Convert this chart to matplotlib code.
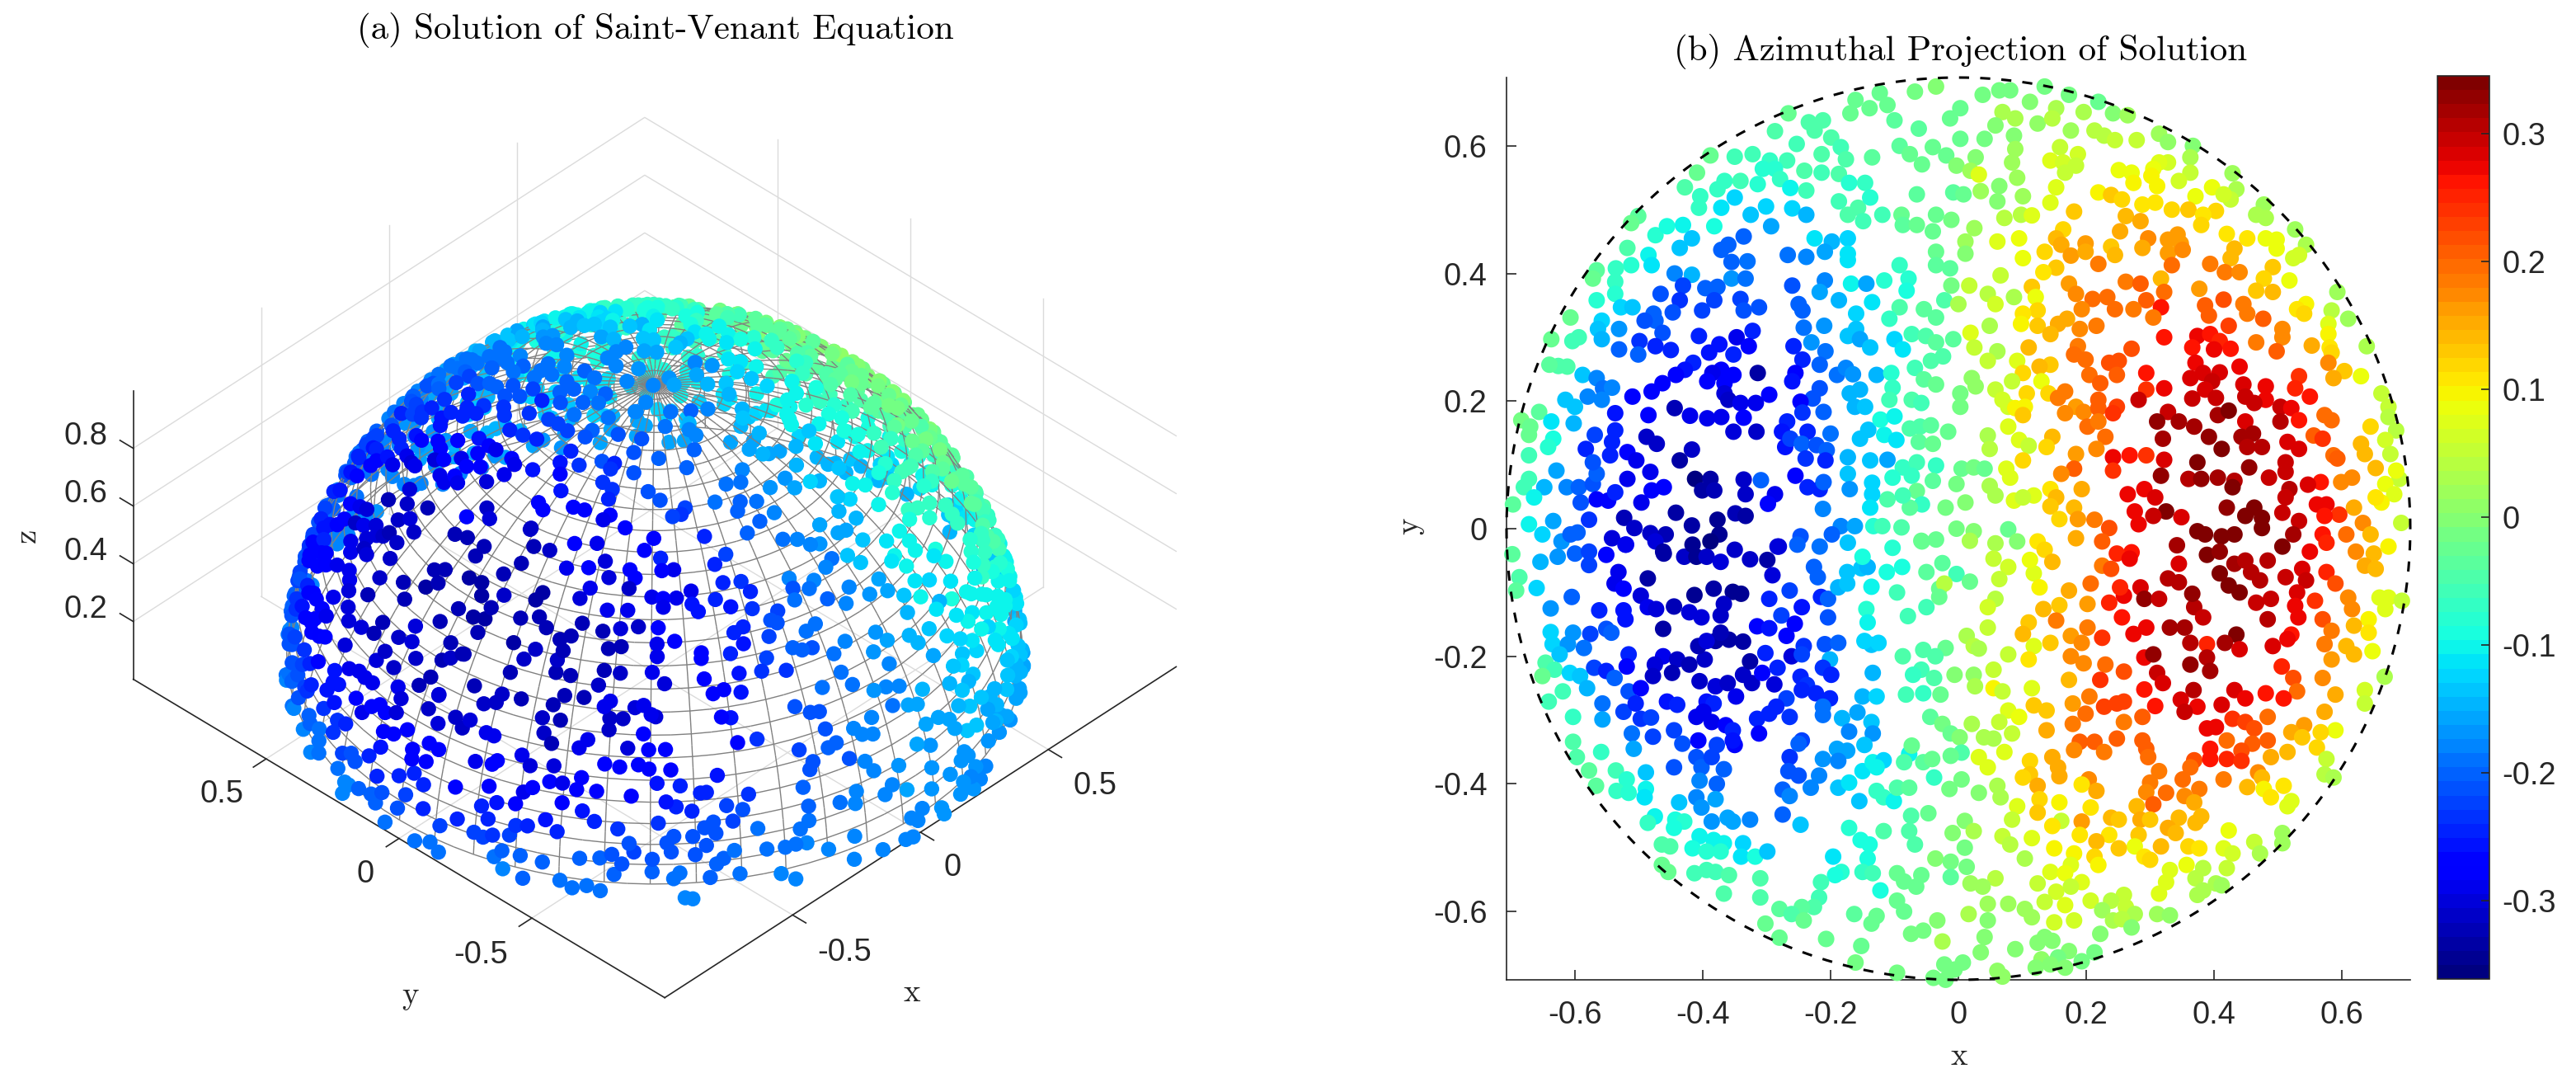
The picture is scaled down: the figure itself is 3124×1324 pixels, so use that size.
import numpy as np
import matplotlib
matplotlib.use("Agg")
import matplotlib.pyplot as plt
from matplotlib.colors import ListedColormap, Normalize
from matplotlib.cm import ScalarMappable
from mpl_toolkits.mplot3d import proj3d
from mpl_toolkits.mplot3d.art3d import Line3DCollection

W, H = 3124, 1324
DPI = 200

# points: x, y, value, one list per quadrant
pts_ul = [
(-.266,.651,-.03),(-.287,.623,-.05),(-.234,.637,-.05),(-.212,.640,-.05),(-.225,.624,-.05),(-.199,.613,-.05),(-.253,.603,-.06),
(-.161,.672,-.03),(-.123,.683,-.02),(-.169,.651,-.03),(-.139,.659,-.03),(-.111,.664,-.03),(-.10,.640,-.04),(-.068,.685,-.01),(-.035,.693,0),
(-.062,.627,-.04),(-.013,.643,-.02),(.003,.659,-.02),(-.092,.600,-.04),(-.076,.587,-.03),(-.057,.571,-.02),(-.04,.598,-.03),(-.019,.585,-.02),(-.003,.569,0),(.003,.611,-.02),(.027,.582,0),(.019,.561,.02),
(-.388,.585,-.02),(-.409,.558,-.03),(-.428,.535,-.05),(-.35,.583,-.06),(-.322,.587,-.06),(-.295,.577,-.07),(-.268,.577,-.06),(-.306,.564,-.08),(-.287,.564,-.08),
(-.366,.545,-.07),(-.341,.545,-.06),(-.314,.54,-.08),(-.279,.548,-.07),(-.241,.561,-.05),(-.214,.587,-.05),(-.184,.598,-.06),(-.176,.579,-.05),(-.214,.558,-.06),(-.187,.556,-.05),(-.263,.534,-.1),(-.238,.53,-.06),(-.171,.542,-.08),(-.146,.542,-.07),(-.135,.582,-.04),
(-.404,.521,-.07),(-.406,.503,-.07),(-.377,.532,-.07),(-.35,.519,-.12),(-.371,.503,-.11),(-.382,.474,-.09),(-.325,.492,-.14),(-.301,.505,-.12),(-.293,.474,-.16),(-.26,.502,-.12),(-.238,.492,-.15),
(-.187,.513,-.06),(-.157,.503,-.05),(-.138,.519,-.08),(-.173,.492,-.05),(-.149,.482,-.06),(-.119,.492,-.06),(-.089,.492,-.03),(-.087,.476,-.04),(-.065,.476,-.03),(-.065,.524,-.04),(-.04,.466,-.03),(-.035,.492,-.02),(-.011,.484,-.01),(-.008,.527,-.04),(.008,.524,-.03),(.025,.471,.02),(.011,.45,.02),(-.035,.434,-.02),(.011,.431,0),
(-.501,.49,-.04),(-.512,.479,-.03),(-.474,.46,-.08),(-.456,.474,-.09),(-.431,.476,-.1),(-.417,.455,-.13),(-.436,.44,-.14),(-.518,.44,-.05),(-.485,.429,-.1),(-.48,.413,-.11),
(-.225,.455,-.11),(-.198,.45,-.15),(-.173,.455,-.12),(-.209,.434,-.16),(-.173,.431,-.11),(-.173,.421,-.11),
(-.336,.458,-.2),(-.36,.445,-.2),(-.371,.437,-.2),(-.33,.419,-.19),(-.355,.418,-.2),(-.267,.429,-.19),(-.238,.426,-.18),
(-.444,.40,-.18),(-.417,.398,-.15),(-.512,.413,-.08),(-.536,.408,-.07),(-.566,.405,-.04),(-.572,.392,-.03),(-.537,.387,-.07),(-.537,.368,-.08),(-.566,.358,-.08),(-.528,.347,-.12),(-.51,.347,-.13),
(-.431,.381,-.22),(-.396,.377,-.2),(-.377,.379,-.2),(-.355,.392,-.17),(-.333,.392,-.19),(-.466,.368,-.21),(-.436,.358,-.23),(-.382,.358,-.22),(-.341,.36,-.22),(-.401,.342,-.22),(-.336,.342,-.21),(-.312,.347,-.21),(-.447,.339,-.21),(-.477,.337,-.2),
(-.26,.381,-.21),(-.25,.352,-.2),(-.244,.342,-.2),(-.209,.389,-.18),(-.217,.371,-.16),(-.187,.358,-.15),(-.168,.384,-.1),(-.144,.384,-.16),(-.116,.389,-.08),(-.135,.355,-.11),(-.16,.337,-.12),(-.092,.413,-.07),(-.078,.392,-.08),(-.081,.373,-.09),(-.092,.347,-.05),(-.108,.329,-.07),(-.035,.413,-.04),(-.013,.408,-.04),(-.011,.381,-.01),(-.022,.358,-.05),(-.054,.344,-.04),(-.035,.331,-.04),(.0,.352,.03),(.017,.381,.05),
(-.558,.326,-.12),(-.564,.313,-.14),(-.558,.297,-.15),(-.531,.313,-.17),(-.607,.331,-.03),(-.637,.297,-.02),(-.604,.294,-.06),(-.594,.3,-.06),
(-.474,.326,-.2),(-.491,.326,-.21),(-.463,.307,-.21),(-.499,.294,-.23),(-.474,.286,-.24),(-.45,.28,-.25),(-.531,.281,-.2),(-.501,.273,-.2),(-.406,.302,-.25),(-.39,.276,-.26),(-.374,.289,-.26),(-.347,.3,-.29),(-.322,.31,-.24),(-.328,.286,-.28),(-.352,.273,-.25),
(-.242,.315,-.19),(-.21,.318,-.17),(-.23,.292,-.17),(-.258,.286,-.24),(-.208,.278,-.19),(-.244,.265,-.25),(-.217,.257,-.2),(-.16,.313,-.13),(-.173,.302,-.14),(-.154,.297,-.16),(-.138,.284,-.14),(-.10,.297,-.12),(-.087,.281,-.11),(-.073,.305,-.06),(-.051,.302,-.05),(-.035,.292,-.04),(-.008,.297,-.04),(-.024,.27,-.05),(-.043,.263,-.05),(.019,.307,.07),(.025,.284,.05),
(-.626,.255,-.05),(-.612,.254,-.05),(-.64,.257,-.04),(-.588,.241,-.13),(-.566,.236,-.18),(-.556,.22,-.19),(-.542,.221,-.18),(-.58,.207,-.18),(-.558,.202,-.18),
(-.415,.26,-.25),(-.428,.249,-.26),(-.442,.241,-.27),(-.371,.249,-.28),(-.352,.241,-.28),(-.385,.244,-.29),(-.314,.244,-.33),(-.393,.231,-.28),(-.366,.228,-.28),(-.463,.228,-.28),(-.48,.215,-.27),(-.51,.207,-.28),(-.366,.212,-.3),(-.36,.202,-.31),(-.296,.21,-.28),(-.317,.197,-.29),(-.341,.197,-.29),(-.255,.244,-.27),(-.26,.231,-.26),(-.217,.22,-.21),(-.228,.204,-.21),(-.247,.199,-.28),(-.19,.241,-.19),(-.176,.252,-.18),(-.165,.242,-.17),(-.128,.241,-.15),(-.17,.212,-.15),(-.154,.218,-.15),(-.162,.191,-.15),(-.146,.191,-.14),(-.105,.244,-.08),(-.103,.221,-.07),(-.108,.202,-.06),(-.068,.252,-.06),(-.054,.234,-.04),(-.035,.226,-.03),(-.073,.202,-.05),(-.058,.197,-.06),(.003,.212,-.01),(.027,.223,.01),(.021,.236,.01),(.003,.191,-.01),
(-.615,.202,-.14),(-.6,.191,-.13),(-.656,.183,-.04),(-.637,.168,-.11),(-.602,.165,-.15),(-.684,.17,-.01),(-.67,.16,-.03),(-.672,.147,-.03),(-.634,.141,-.09),(-.642,.128,-.08),(-.672,.115,-.06),
(-.537,.181,-.26),(-.485,.178,-.28),(-.444,.189,-.32),(-.42,.177,-.29),(-.393,.173,-.29),(-.371,.175,-.29),(-.336,.174,-.27),
(-.488,.144,-.31),(-.472,.133,-.31),(-.352,.152,-.3),(-.316,.152,-.31),(-.537,.154,-.25),(-.569,.147,-.22),(-.542,.136,-.25),(-.583,.125,-.24),(-.518,.12,-.28),(-.545,.115,-.25),(-.504,.107,-.29),(-.417,.124,-.31),(-.436,.107,-.33),
(-.268,.168,-.25),(-.276,.152,-.26),(-.271,.128,-.26),(-.263,.141,-.22),(-.236,.152,-.25),(-.245,.133,-.2),(-.222,.131,-.21),(-.2,.149,-.19),(-.206,.123,-.2),(-.239,.11,-.23),(-.208,.107,-.24),(-.211,.183,-.2),(-.244,.182,-.23),
(-.154,.141,-.13),(-.141,.155,-.14),(-.116,.147,-.1),(-.097,.139,-.11),(-.122,.171,-.09),(-.1,.176,-.1),(-.173,.112,-.15),(-.138,.107,-.13),(-.111,.108,-.16),(-.173,.086,-.14),(-.135,.072,-.12),
(-.076,.157,-.05),(-.06,.16,-.05),(-.043,.162,-.04),(-.062,.136,-.04),(-.04,.133,-.03),(-.016,.152,-.02),
(-.087,.096,-.07),(-.065,.104,-.06),(-.103,.08,-.08),(-.073,.083,-.07),(-.035,.099,-.07),(-.04,.075,-.04),(.005,.094,-.02),(.024,.096,-.01),
(-.003,.07,-.01),(.011,.041,.0),(-.02,.033,-.01),(-.065,.059,-.03),(-.057,.038,-.07),(-.076,.033,-.04),(-.111,.046,-.05),(-.087,.052,-.06),
(-.135,.054,-.12),(-.138,.033,-.11),(-.212,.031,-.18),
(-.629,.091,-.16),(-.648,.065,-.15),(-.672,.078,-.06),(-.68,.065,-.06),(-.664,.049,-.1),(-.697,.038,-.04),(-.613,.065,-.18),(-.594,.065,-.2),(-.572,.07,-.21),(-.566,.086,-.2),(-.572,.104,-.21),(-.591,.041,-.21),(-.566,.046,-.28),(-.548,.044,-.27),(-.537,.057,-.25),
(-.518,.078,-.29),(-.482,.089,-.29),(-.461,.065,-.28),(-.48,.06,-.28),(-.496,.041,-.29),(-.412,.078,-.35),(-.388,.078,-.33),(-.401,.06,-.33),(-.382,.06,-.32),(-.336,.077,-.31),(-.333,.054,-.31),(-.309,.076,-.2),(-.287,.054,-.29),(-.298,.039,-.27),(-.255,.083,-.28),(-.236,.065,-.24),(-.217,.062,-.25),(-.211,.073,-.2),(-.17,.062,-.17),
(-.442,.025,-.33),(-.523,.017,-.32),(-.507,.001,-.31),(-.482,-.007,-.31),(-.458,-.009,-.32),(-.377,.014,-.34),(-.349,.024,-.32),(-.333,.02,-.33),(-.417,.005,-.33),(-.374,-.009,-.34),(-.388,-.02,-.35),(-.578,.014,-.23),(-.634,.012,-.16),(-.672,.007,-.1),(-.651,-.009,-.12),(-.621,-.02,-.17),(-.596,-.006,-.2),(-.607,-.009,-.2),(-.542,-.015,-.3),(-.52,-.025,-.28),(-.474,-.02,-.3),(-.461,-.039,-.33),(-.184,.004,-.18),(-.162,.004,-.16),(-.198,-.009,-.2),(-.247,-.012,-.21),(-.252,-.025,-.2),(-.281,-.028,-.3),(-.173,-.022,-.14),(-.217,-.028,-.19),(-.133,.004,-.08),(-.119,.004,-.06),(-.089,.002,-.05),(-.103,-.03,-.08),(-.057,-.02,-.03),(-.035,-.017,-.02),(-.003,0,-.01),(.024,-.004,0),
]
pts_ll = [
(-.698,-.04,-.04),(-.687,-.076,-.05),(-.692,-.097,-.04),(-.66,-.093,-.12),(-.654,-.052,-.15),(-.627,-.044,-.17),(-.6,-.039,-.2),(-.578,-.057,-.22),(-.578,-.036,-.22),(-.605,-.107,-.2),(-.638,-.125,-.17),
(-.551,-.041,-.27),(-.532,-.068,-.29),(-.538,-.086,-.29),(-.524,-.094,-.28),(-.486,-.078,-.33),(-.462,-.036,-.33),(-.521,-.025,-.29),(-.429,-.044,-.31),(-.41,-.044,-.34),(-.394,-.044,-.31),(-.372,-.052,-.3),(-.35,-.033,-.31),(-.326,-.048,-.31),(-.299,-.049,-.33),(-.291,-.073,-.3),(-.283,-.028,-.3),(-.416,-.025,-.34),
(-.497,-.105,-.3),(-.486,-.123,-.29),(-.473,-.126,-.3),(-.445,-.122,-.32),(-.413,-.104,-.34),(-.383,-.094,-.33),(-.353,-.099,-.34),(-.34,-.102,-.34),(-.367,-.118,-.31),(-.421,-.131,-.3),(-.402,-.139,-.3),(-.372,-.136,-.31),(-.562,-.128,-.25),(-.524,-.128,-.26),(-.521,-.142,-.26),(-.462,-.157,-.33),(-.296,-.11,-.24),(-.264,-.097,-.22),(-.245,-.123,-.26),(-.215,-.107,-.24),(-.204,-.11,-.2),(-.204,-.139,-.21),(-.277,-.136,-.22),(-.315,-.153,-.28),(-.296,-.156,-.26),(-.269,-.168,-.28),(-.256,-.149,-.28),
(-.226,-.06,-.2),(-.22,-.076,-.2),(-.188,-.092,-.15),(-.174,-.086,-.14),(-.174,-.068,-.14),(-.152,-.062,-.13),(-.142,-.06,-.15),(-.15,-.044,-.09),(-.136,-.091,-.1),(-.112,-.068,-.09),(-.088,-.06,-.09),(-.096,-.1,-.06),(-.144,-.126,-.08),(-.142,-.147,-.1),(-.079,-.137,-.06),(-.05,-.068,-.04),(-.025,-.054,-.04),(-.003,-.071,-.06),(.018,-.083,-.03),(-.03,-.094,-.02),(-.022,-.086,.04),(-.05,-.123,-.06),(-.03,-.107,-.02),(.018,-.019,.03),(-.058,-.019,-.03),(.013,-.168,.03),
(-.638,-.162,-.12),(-.603,-.163,-.17),(-.576,-.165,-.22),(-.551,-.157,-.21),(-.543,-.163,-.2),(-.635,-.181,-.12),(-.611,-.181,-.17),(-.586,-.187,-.19),(-.624,-.197,-.13),(-.516,-.197,-.25),(-.519,-.216,-.27),(-.646,-.21,-.05),(-.632,-.221,-.06),(-.651,-.231,-.03),(-.608,-.226,-.12),(-.592,-.231,-.14),(-.57,-.218,-.22),(-.551,-.223,-.25),(-.538,-.234,-.2),(-.581,-.25,-.15),(-.619,-.255,-.06),(-.641,-.271,-.06),
(-.462,-.2,-.29),(-.44,-.205,-.31),(-.421,-.213,-.32),(-.397,-.205,-.31),(-.407,-.184,-.32),(-.475,-.213,-.3),(-.478,-.231,-.31),(-.448,-.226,-.32),(-.405,-.239,-.31),(-.38,-.247,-.3),(-.361,-.242,-.31),(-.337,-.229,-.31),(-.323,-.242,-.31),(-.326,-.208,-.33),(-.348,-.263,-.29),(-.302,-.195,-.24),(-.307,-.226,-.28),(-.283,-.218,-.25),(-.288,-.244,-.3),(-.261,-.2,-.3),(-.242,-.184,-.23),(-.245,-.197,-.22),(-.38,-.176,-.33),(-.359,-.174,-.33),(-.337,-.177,-.33),(-.394,-.176,-.3),(-.372,-.163,-.32),
(-.209,-.181,-.21),(-.188,-.179,-.2),(-.201,-.205,-.15),(-.212,-.218,-.23),(-.199,-.229,-.24),(-.247,-.232,-.24),(-.237,-.245,-.23),(-.245,-.253,-.24),(-.223,-.258,-.24),(-.201,-.266,-.25),(-.212,-.279,-.19),(-.212,-.292,-.19),(-.269,-.266,-.22),(-.285,-.279,-.25),(-.296,-.29,-.24),(-.315,-.298,-.25),(-.264,-.295,-.23),(-.312,-.321,-.27),(-.136,-.182,-.13),(-.147,-.176,-.12),(-.125,-.179,-.12),(-.134,-.226,-.15),(-.15,-.263,-.15),(-.128,-.263,-.12),(-.158,-.288,-.16),(-.182,-.297,-.15),(-.171,-.318,-.18),(-.136,-.303,-.13),(-.134,-.321,-.17),(-.147,-.339,-.14),
(-.087,-.2,-.05),(-.055,-.19,-.05),(-.02,-.187,-.03),(-.036,-.2,-.05),(-.058,-.221,-.06),(-.071,-.229,-.07),(-.038,-.234,-.05),(-.006,-.229,.0),(.024,-.229,.01),(-.082,-.26,-.06),(-.055,-.258,-.07),(-.028,-.26,-.03),(.026,-.247,.03),(.024,-.184,.04),
(-.557,-.274,-.19),(-.557,-.299,-.16),(-.603,-.295,-.07),(-.524,-.287,-.22),(-.516,-.255,-.21),(-.497,-.25,-.27),(-.505,-.274,-.24),(-.497,-.298,-.23),(-.481,-.296,-.22),(-.511,-.321,-.19),(-.478,-.326,-.22),(-.456,-.271,-.26),(-.44,-.276,-.24),(-.445,-.316,-.22),(-.432,-.337,-.21),(-.407,-.332,-.27),(-.41,-.295,-.29),(-.394,-.271,-.26),(-.383,-.274,-.25),(-.399,-.287,-.29),(-.386,-.303,-.29),(-.364,-.308,-.28),(-.353,-.316,-.25),(-.35,-.339,-.27),(-.378,-.339,-.22),(-.353,-.332,-.26),
(-.603,-.334,-.05),(-.597,-.358,-.05),(-.559,-.35,-.07),(-.508,-.345,-.16),(-.578,-.379,-.04),(-.567,-.403,-.04),(-.536,-.379,-.06),(-.519,-.393,-.08),(-.535,-.411,-.07),(-.516,-.414,-.08),(-.489,-.382,-.13),(-.489,-.408,-.1),(-.491,-.421,-.11),(-.445,-.374,-.21),(-.41,-.358,-.21),(-.402,-.374,-.2),(-.386,-.358,-.22),(-.367,-.377,-.2),(-.405,-.395,-.18),(-.378,-.4,-.2),(-.437,-.429,-.14),(-.41,-.421,-.18),(-.402,-.437,-.17),(-.38,-.424,-.16),
(-.264,-.358,-.23),(-.266,-.38,-.21),(-.245,-.332,-.22),(-.25,-.337,-.2),(-.25,-.387,-.21),(-.218,-.387,-.18),(-.231,-.406,-.18),(-.275,-.409,-.2),(-.264,-.419,-.18),(-.212,-.361,-.17),(-.19,-.345,-.16),(-.174,-.348,-.16),(-.188,-.364,-.18),(-.188,-.406,-.14),(-.171,-.398,-.11),(-.15,-.38,-.11),(-.134,-.366,-.1),(-.117,-.363,-.12),(-.128,-.374,-.1),(-.155,-.427,-.13),(-.128,-.411,-.07),(-.117,-.421,-.07),(-.101,-.427,-.1),(-.096,-.406,-.05),(-.077,-.353,-.1),(-.085,-.366,-.05),(-.055,-.366,-.04),(-.041,-.361,-.03),(-.077,-.406,-.04),(-.038,-.39,-.07),
(-.073,-.34,-.03),(-.044,-.295,-.04),(-.025,-.306,-.01),(-.012,-.321,-.02),(.002,-.327,0),(.005,-.351,-.05),(-.012,-.356,-.02),(.021,-.306,.03),(-.014,-.408,-.01),(.005,-.393,-.01),
(-.275,-.448,-.2),(-.247,-.464,-.14),(-.326,-.456,-.18),(-.361,-.453,-.16),(-.386,-.459,-.17),(-.353,-.459,-.16),(-.337,-.493,-.12),(-.405,-.482,-.1),(-.383,-.488,-.1),(-.367,-.493,-.1),(-.416,-.501,-.09),(-.394,-.506,-.08),(-.372,-.506,-.08),(-.34,-.514,-.11),(-.318,-.514,-.09),(-.299,-.506,-.13),
(-.475,-.451,-.1),(-.486,-.461,-.07),(-.443,-.456,-.09),(-.429,-.459,-.08),(-.445,-.469,-.09),(-.464,-.495,-.05),(-.451,-.498,-.05),(-.464,-.527,-.02),(-.454,-.538,-.03),(-.413,-.54,-.06),(-.394,-.535,-.06),(-.38,-.538,-.06),(-.359,-.543,-.05),(-.31,-.548,-.05),(-.367,-.572,-.05),(-.31,-.578,-.05),
(-.171,-.469,-.08),(-.153,-.488,-.09),(-.139,-.495,-.09),(-.142,-.517,-.09),(-.117,-.474,-.05),(-.196,-.514,-.11),(-.183,-.538,-.08),(-.193,-.543,-.09),(-.15,-.538,-.07),(-.134,-.54,-.06),(-.215,-.554,-.06),(-.218,-.578,-.06),(-.122,-.567,-.09),(-.226,-.593,-.05),(-.245,-.593,-.04),(-.28,-.596,-.04),(-.261,-.604,-.05),(-.242,-.614,-.03),(-.302,-.619,-.02),(-.28,-.641,-.02),(-.163,-.604,-.04),(-.128,-.607,-.03),(-.136,-.619,-.03),(-.207,-.643,-.02),(-.152,-.654,-.02),(-.161,-.68,-.01),(-.096,-.696,-.01),
(-.074,-.45,-.05),(-.047,-.446,-.03),(-.077,-.474,-.05),(-.068,-.495,-.05),(-.009,-.477,.0),(.01,-.458,.0),(.024,-.474,.03),(.01,-.5,-.01),(-.036,-.517,.0),(-.012,-.522,-.01),(.013,-.53,-.01),(-.012,-.546,-.04),(.019,-.556,.02),(-.096,-.54,-.03),(-.085,-.553,-.03),(-.058,-.543,-.03),(-.066,-.561,-.02),(-.096,-.583,-.03),(-.085,-.6,-.03),
(.016,-.604,.03),(-.033,-.614,0.),(-.055,-.63,-.01),(-.074,-.635,-.01),(-.025,-.647,.03),(-.022,-.683,-.01),(.007,-.68,-.01),(-.006,-.691,-.01),(-.039,-.704,-.01),(-.02,-.707,-.01),
]
pts_ur = [
(.135,.693,-.01),(.173,.68,-.01),(.219,.669,-.02),(.242,.651,-.0),(.265,.648,.02),(.314,.619,.02),(.328,.606,.01),(.367,.6,.0),(.363,.582,.03),(.429,.557,.02),(.435,.532,.03),(.478,.508,.02),(.466,.492,.03),(.481,.487,.03),(.527,.469,.02),(.544,.445,.03),(.524,.424,.06),(.593,.371,.02),(.584,.342,.04),(.61,.329,.02),(.639,.286,.03),(.63,.239,.09),(.662,.212,.05),(.673,.191,.05),(.673,.175,.04),(.685,.154,.04),(.668,.139,.06),(.676,.117,.05),(.69,.078,.05),(.693,.009,.05),(.685,.091,.09),(.668,.07,.09),(.682,.054,.08),(.662,.041,.1),
(.038,.68,-.01),(.064,.687,-.01),(.081,.687,-.01),(.112,.669,.0),(.153,.659,.03),(.196,.653,.03),(.069,.653,.03),(.089,.643,.03),(.124,.635,.01),(.147,.643,.04),(.058,.632,-.0),(.176,.624,.02),(.213,.624,.04),(.228,.616,.04),(.245,.609,.05),(.279,.609,.05),(.041,.611,-.01),(.087,.616,.0),(.089,.595,.02),(.159,.598,.05),(.187,.587,.06),(.144,.577,.07),(.164,.574,.06),(.084,.574,.02),(.184,.569,.05),(.328,.574,.06),(.314,.574,.07),(.305,.564,.09),(.251,.562,.09),(.271,.558,.09),(.167,.558,.05),(.032,.555,.07),(.363,.558,.05),(.345,.545,.06),(.092,.55,.02),(.274,.542,.1),(.302,.553,.1),(.311,.537,.1),(.064,.537,.0),(.153,.535,.08),(.219,.527,.1),(.239,.523,.13),(.256,.516,.12),(.035,.529,.02),(.101,.521,.02),(.061,.513,.0),(.144,.511,.08),(.397,.535,.09),(.371,.521,.09),(.426,.516,.05),(.415,.524,.06),(.288,.508,.11),(.308,.511,.11),(.334,.5,.12),(.36,.5,.13),(.181,.497,.13),(.403,.498,.12),(.383,.492,.11),(.072,.487,.04),(.098,.492,.04),(.115,.491,.07),(.262,.49,.14),(.285,.482,.15),(.38,.476,.12),(.164,.469,.12),(.253,.466,.15),(.343,.461,.16),(.42,.462,.11),(.452,.455,.11),(.481,.455,.09),(.498,.453,.09),(.061,.45,.08),(.095,.455,.09),(.153,.455,.14),(.297,.455,.17),(.328,.453,.16),(.348,.447,.16),(.199,.447,.16),(.161,.445,.15),(.135,.434,.12),(.239,.442,.13),(.288,.44,.15),(.432,.439,.14),(.498,.439,.09),(.533,.429,.06),(.176,.428,.16),(.199,.434,.15),(.245,.429,.14),(.328,.432,.16),(.351,.437,.17),(.101,.424,.09),(.426,.424,.14),(.334,.413,.2),(.219,.415,.18),(.394,.415,.18),(.492,.41,.13),(.153,.409,.13),(.133,.402,.11),(.417,.402,.19),(.44,.402,.17),(.518,.389,.09),(.066,.397,.05),(.317,.392,.14),(.478,.392,.12),(.262,.387,.18),(.285,.384,.21),(.173,.384,.16),(.115,.379,.13),(.377,.376,.16),(.466,.373,.13),(.492,.371,.14),(.046,.368,.04),(.184,.368,.17),(.121,.363,.09),(.322,.371,.2),(.087,.363,.03),(.058,.352,.06),(.233,.363,.2),(.21,.36,.2),(.386,.35,.21),(.415,.359,.22),(.446,.352,.19),(.544,.352,.1),(.53,.344,.11),(.294,.358,.21),(.274,.344,.19),(.245,.344,.2),(.317,.347,.26),(.193,.344,.17),(.124,.342,.12),(.101,.337,.11),(.541,.337,.12),(.452,.337,.19),(.392,.334,.21),(.305,.331,.19),(.17,.329,.15),(.579,.321,.08),(.477,.329,.21),(.423,.318,.23),(.124,.318,.13),(.156,.321,.15),(.216,.318,.19),(.049,.318,.03),(.19,.313,.17),(.098,.321,.1),(.144,.305,.14),(.322,.30,.26),(.374,.302,.27),(.394,.305,.26),(.409,.294,.25),(.507,.313,.17),(.579,.305,.1),(.11,.284,.14),(.466,.292,.19),(.507,.30,.17),(.553,.287,.15),(.581,.284,.11),(.366,.284,.26),(.426,.282,.26),(.4,.281,.27),(.271,.282,.22),(.187,.286,.18),(.498,.278,.21),(.061,.278,.03),(.181,.273,.2),(.199,.265,.2),(.251,.263,.22),(.236,.26,.22),(.584,.276,.12),(.371,.26,.27),(.046,.263,.05),(.092,.263,.08),(.144,.257,.13),(.127,.254,.14),(.44,.254,.27),(.383,.244,.28),(.409,.245,.28),(.579,.26,.17),(.604,.247,.13),(.294,.244,.26),(.205,.241,.2),(.101,.244,.12),(.248,.241,.21),(.363,.236,.28),(.533,.239,.24),(.587,.236,.15),(.084,.231,.05),(.13,.231,.09),(.222,.228,.21),(.527,.22,.25),(.397,.231,.3),(.446,.226,.28),(.481,.223,.27),(.058,.218,.05),(.294,.218,.24),(.322,.22,.27),(.386,.218,.28),(.55,.207,.26),(.107,.212,.12),(.141,.212,.12),(.167,.215,.18),(.219,.202,.21),(.282,.202,.29),(.366,.204,.29),(.403,.205,.29),(.449,.207,.3),(.156,.205,.18),(.481,.202,.27),(.069,.202,.06),(.248,.191,.23),(.504,.191,.3),(.463,.197,.29),(.104,.191,.1),(.078,.191,.06),(.521,.189,.27),(.573,.178,.2),(.184,.191,.16),(.167,.181,.17),(.196,.183,.17),(.219,.189,.21),(.089,.189,.1),(.101,.178,.13),(.328,.183,.29),(.406,.178,.32),(.423,.185,.34),(.584,.17,.2),(.242,.181,.24),(.504,.168,.31),(.533,.17,.26),(.078,.16,.08),(.311,.168,.33),(.345,.168,.32),(.369,.16,.32),(.449,.168,.28),(.202,.16,.2),(.219,.168,.18),(.645,.16,.12),(.392,.144,.33),(.32,.141,.32),(.443,.144,.32),(.461,.149,.32),(.556,.146,.21),(.57,.141,.24),(.046,.146,.03),(.147,.144,.14),(.515,.136,.28),(.230,.144,.2),(.095,.139,.08),(.11,.13,.05),(.049,.125,.04),(.138,.128,.12),(.452,.128,.31),(.475,.128,.31),(.216,.125,.17),(.412,.125,.34),(.533,.125,.28),(.63,.133,.14),(.636,.117,.14),(.184,.117,.16),(.587,.115,.2),(.593,.11,.21),(.242,.112,.27),(.268,.115,.26),(.294,.115,.24),(.101,.107,.12),(.322,.108,.28),(.374,.104,.34),(.512,.104,.3),(.041,.094,-.02),(.653,.095,.14),(.242,.091,.24),(.455,.096,.33),(.181,.094,.21),(.317,.083,.33),(.512,.089,.3),(.075,.094,.08),(.081,.08,.08),(.161,.086,.17),(.36,.078,.31),(.38,.078,.33),(.406,.08,.32),(.432,.075,.31),(.486,.08,.3),(.567,.073,.26),(.547,.069,.28),(.599,.073,.17),(.616,.08,.17),(.049,.067,.03),(.429,.065,.35),(.518,.062,.31),(.193,.062,.15),(.144,.062,.11),(.265,.054,.27),(.291,.062,.27),(.087,.044,.08),(.153,.049,.14),(.118,.052,.07),(.058,.052,.03),(.101,.049,.05),(.308,.049,.28),(.512,.049,.3),(.653,.049,.11),(.144,.035,.13),(.561,.038,.27),(.576,.038,.27),(.619,.033,.15),(.181,.033,.14),(.276,.027,.27),(.325,.027,.34),(.42,.033,.33),(.463,.033,.35),(.349,.018,.28),(.305,.02,.29),(.596,.022,.24),(.573,.02,.26),(.507,.025,.29),(.449,.02,.34),(.475,.017,.35),(.158,.015,.12),(.187,.015,.16),(.213,.014,.19),(.282,.007,.27),(.533,.012,.3),(.633,.009,.17),(.645,-.009,.14),(.078,-.001,-.03),(.236,.001,.22),(.374,-.004,.35),(.386,-.009,.36),(.412,-.012,.34),(.432,-.009,.34),(.475,.001,.34),(.524,-.009,.32),(.57,-.009,.26),(.607,-.009,.2),(.184,-.015,.15),(.225,-.02,.21),(.576,-.022,.25),
]
pts_lr = [
(.058,-.023,.03),(.092,-.02,.0),(.124,-.02,.11),(.135,-.033,.12),(.147,-.052,.14),(.055,-.047,.05),(.078,-.06,.06),(.064,-.079,.05),(.118,-.07,.08),(.112,-.049,.09),(.127,-.092,.1),(.058,-.11,.04),(.046,-.123,.06),(.173,-.097,.15),(.133,-.126,.14),(.158,-.12,.13),(.207,-.086,.2),(.202,-.118,.16),(.153,-.144,.18),(.11,-.147,.13),(.101,-.165,.14),(.144,-.179,.13),(.118,-.184,.07),(.11,-.205,.11),(.078,-.197,.05),(.046,-.155,.05),(.032,-.188,.03),(.202,-.155,.18),(.176,-.168,.16),(.225,-.171,.24),(.193,-.179,.17),(.176,-.2,.17),(.196,-.211,.17),(.23,-.213,.2),(.256,-.139,.26),(.236,-.116,.25),(.259,-.105,.27),(.225,-.058,.19),(.239,-.063,.22),(.253,-.092,.25),(.285,-.092,.28),(.291,-.11,.33),(.314,-.11,.3),(.271,-.037,.26),(.248,-.039,.25),(.268,-.047,.27),(.274,-.165,.27),(.294,-.155,.27),(.331,-.155,.32),(.354,-.155,.32),(.369,-.123,.31),(.366,-.102,.33),(.328,-.078,.31),(.345,-.084,.31),(.345,-.055,.28),(.342,-.026,.32),(.389,-.041,.34),(.409,-.036,.33),(.409,-.07,.34),(.423,-.089,.34),(.44,-.1,.34),(.432,-.055,.32),(.449,-.05,.31),(.484,-.05,.31),(.458,-.068,.31),(.472,-.081,.31),(.512,-.076,.3),(.507,-.028,.34),(.538,-.063,.28),(.576,-.068,.25),(.544,-.081,.29),(.59,-.086,.22),(.55,-.036,.27),(.622,-.036,.17),(.65,-.039,.14),(.636,-.058,.15),(.653,-.063,.14),(.673,-.028,.1),(.466,-.116,.3),(.489,-.11,.29),(.484,-.142,.31),(.383,-.139,.3),(.53,-.1,.28),(.527,-.121,.27),(.558,-.113,.24),(.532,-.139,.27),(.61,-.108,.17),(.616,-.126,.17),(.57,-.142,.22),(.659,-.108,.08),(.673,-.108,.08),(.694,-.113,.05),(.668,-.126,.08),(.642,-.142,.1),(.619,-.152,.14),(.642,-.163,.11),(.584,-.16,.18),(.573,-.181,.18),(.521,-.166,.26),(.515,-.173,.27),(.492,-.184,.28),(.389,-.181,.25),(.363,-.179,.31),(.435,-.166,.35),(.417,-.179,.32),(.44,-.189,.28),(.291,-.202,.27),(.305,-.197,.33),(.389,-.202,.31),(.363,-.213,.33),(.607,-.184,.14),(.648,-.192,.09),(.584,-.205,.16),(.619,-.197,.14),(.506,-.216,.25),(.259,-.224,.22),(.394,-.223,.32),(.667,-.232,.03),(.311,-.226,.3),(.524,-.234,.22),(.57,-.234,.17),(.222,-.237,.24),(.173,-.237,.14),(.320,-.242,.28),(.636,-.253,.06),(.055,-.221,.05),(.115,-.25,.07),(.055,-.25,.1),(.069,-.255,.05),(.368,-.253,.31),(.432,-.253,.28),(.481,-.258,.26),(.205,-.263,.19),(.291,-.252,.26),(.53,-.255,.2),(.59,-.26,.15),(.509,-.266,.26),(.348,-.268,.28),(.259,-.271,.23),(.636,-.274,.05),(.179,-.274,.16),(.248,-.274,.23),(.118,-.277,.13),(.228,-.279,.23),(.308,-.278,.26),(.449,-.266,.27),(.412,-.276,.28),(.374,-.279,.27),(.354,-.287,.29),(.078,-.285,.07),(.138,-.285,.13),(.199,-.29,.2),(.573,-.287,.15),(.095,-.295,.09),(.288,-.295,.21),(.429,-.298,.24),(.484,-.295,.2),(.064,-.303,.05),(.259,-.303,.19),(.403,-.311,.27),(.449,-.303,.23),(.179,-.306,.18),(.389,-.313,.27),(.463,-.313,.22),(.138,-.316,.15),(.59,-.316,.09),(.541,-.308,.16),(.521,-.319,.15),(.567,-.319,.12),(.084,-.321,.05),(.538,-.327,.13),(.04,-.327,.03),(.055,-.329,.03),(.288,-.332,.21),(.484,-.332,.21),(.42,-.332,.2),(.46,-.337,.21),(.248,-.329,.21),(.213,-.334,.21),(.19,-.334,.21),(.294,-.345,.21),(.561,-.343,.12),(.181,-.347,.17),(.228,-.35,.18),(.394,-.345,.26),(.443,-.348,.22),(.515,-.35,.14),(.072,-.35,.07),(.032,-.358,.08),(.297,-.358,.2),(.147,-.358,.15),(.369,-.363,.22),(.42,-.361,.25),(.394,-.361,.26),(.443,-.364,.24),(.489,-.358,.15),(.112,-.364,.12),(.576,-.361,.05),(.314,-.38,.18),(.156,-.374,.15),(.046,-.374,.07),(.363,-.374,.2),(.469,-.382,.17),(.573,-.385,.04),(.112,-.385,.13),(.101,-.39,.12),(.158,-.388,.15),(.351,-.393,.2),(.415,-.393,.19),(.475,-.39,.14),(.587,-.39,.03),(.204,-.393,.17),(.193,-.401,.11),(.124,-.403,.15),(.509,-.403,.11),(.3,-.398,.18),(.452,-.405,.14),(.377,-.408,.18),(.061,-.403,.03),(.216,-.411,.15),(.294,-.413,.17),(.325,-.414,.2),(.032,-.414,.0),(.478,-.408,.1),(.127,-.424,.12),(.354,-.419,.17),(.521,-.427,.07),(.515,-.435,.07),(.489,-.421,.11),(.066,-.421,.03),(.158,-.429,.1),(.207,-.437,.11),(.305,-.432,.21),(.369,-.429,.15),(.092,-.435,.08),(.279,-.435,.14),(.124,-.445,.13),(.161,-.458,.05),(.084,-.456,.05),(.239,-.453,.14),(.193,-.459,.16),(.251,-.456,.13),(.285,-.456,.15),(.38,-.451,.14),(.3,-.456,.13),(.147,-.466,.11),(.345,-.453,.14),(.423,-.473,.09),(.371,-.461,.14),(.507,-.477,.02),(.328,-.469,.15),(.236,-.48,.11),(.19,-.48,.11),(.069,-.482,.05),(.115,-.485,.08),(.463,-.491,.05),(.282,-.48,.13),(.34,-.477,.14),(.216,-.49,.14),(.317,-.498,.14),(.507,-.493,.02),(.081,-.495,.04),(.276,-.498,.09),(.251,-.501,.13),(.36,-.498,.12),(.377,-.501,.11),(.15,-.501,.1),(.415,-.501,.08),(.181,-.509,.1),(.472,-.509,.03),(.291,-.514,.11),(.429,-.509,.06),(.104,-.517,.03),(.213,-.514,.12),(.3,-.519,.12),(.219,-.527,.1),(.357,-.527,.09),(.176,-.527,.08),(.383,-.532,.04),(.331,-.535,.08),(.42,-.532,.05),(.144,-.538,.08),(.167,-.54,.09),(.058,-.548,.04),(.325,-.554,.08),(.193,-.554,.08),(.371,-.548,.04),(.124,-.556,.05),(.153,-.569,.06),(.403,-.556,.03),(.412,-.559,.02),(.314,-.572,.07),(.176,-.561,.05),(.038,-.561,.02),(.259,-.574,.05),(.207,-.583,.06),(.374,-.574,.03),(.239,-.583,.04),(.383,-.567,.03),(.078,-.588,.02),(.046,-.588,.02),(.135,-.585,.05),(.104,-.596,.02),(.167,-.59,.07),(.262,-.593,.05),(.225,-.598,.02),(.311,-.604,.02),(.276,-.604,.03),(.331,-.606,.01),(.115,-.609,.02),(.046,-.614,.0),(.181,-.614,.06),(.15,-.617,.06),(.242,-.614,.03),(.256,-.612,.04),(.271,-.625,.0),(.222,-.635,0.),(.135,-.64,.0),(.041,-.64,.0),(.147,-.646,.0),(.124,-.649,-.0),(.089,-.659,-.0),(.035,-.664,-.0),(.173,-.662,.0),(.213,-.664,-.01),(.13,-.675,.01),(.156,-.672,-.01),(.193,-.678,-.01),(.144,-.683,-.0),(.121,-.688,.0),(.167,-.688,0.),(.061,-.693,.01),(.069,-.702,.01),
]

xy_ticks = [-0.6, -0.4, -0.2, 0, 0.2, 0.4, 0.6]
xy_labels = ["-0.6", "-0.4", "-0.2", "0", "0.2", "0.4", "0.6"]
cbar_ticks = [-0.3, -0.2, -0.1, 0, 0.1, 0.2, 0.3]
cbar_labels = ["-0.3", "-0.2", "-0.1", "0", "0.1", "0.2", "0.3"]
box_ticks = [-0.5, 0, 0.5]
box_labels = ["-0.5", "0", "0.5"]
z_ticks = [0.2, 0.4, 0.6, 0.8]
z_labels = ["0.2", "0.4", "0.6", "0.8"]

TITLE_A = "(a) Solution of Saint-Venant Equation"
TITLE_B = "(b) Azimuthal Projection of Solution"

CLIM = (-0.361, 0.345)     # panel b and colourbar
CLIM_3D = (-0.40, 1.07)    # panel a is scaled wider, never gets past green
R_MAX = 0.7071
ELEV, AZIM = 38.5, -136.1

DOT_S = 52
DOT_S_3D = 44
INK = "#262626"
SANS = "Liberation Sans"
SERIF = "cmr10"
TICK_FS = 13.7
TITLE_FS = 15.5

jet64 = ListedColormap(plt.get_cmap("jet")(np.linspace(0, 1, 64)))


def px_box(left, top, right, bottom):
    return [left / W, 1 - bottom / H, (right - left) / W, (bottom - top) / H]


all_pts = np.array(pts_ul + pts_ll + pts_ur + pts_lr)
az_x, az_y, u = all_pts[:, 0], all_pts[:, 1], all_pts[:, 2]

# azimuthal equal-area back onto the unit hemisphere
r2 = np.minimum(az_x**2 + az_y**2, 0.5)
s_x = az_x * 2 * np.sqrt(1 - r2)
s_y = az_y * 2 * np.sqrt(1 - r2)
s_z = 1 - 2 * r2

fig = plt.figure(figsize=(W / DPI, H / DPI), dpi=DPI)

# ---- panel a
ax = fig.add_axes([0, 0, 0.5, 1], projection="3d", proj_type="ortho", computed_zorder=False)
ax.set_axis_off()
ax.set_xlim(-1, 1)
ax.set_ylim(-1, 1)
ax.set_zlim(0, 1)
ax.view_init(elev=ELEV, azim=AZIM)
ax.set_box_aspect((2, 2, 1), zoom=1.0)


def to_px(x, y, z):
    X, Y, _ = proj3d.proj_transform(x, y, z, ax.get_proj())
    return ax.transData.transform((X, Y))


# fit the box to where it sits in the reference
fig.canvas.draw()
p0, p1 = to_px(0, 0, 0), to_px(0, 0, 1)
ax.set_box_aspect((2, 2, 1), zoom=350.0 / (p1[1] - p0[1]))
fig.canvas.draw()
p0 = to_px(0, 0, 0)
pos = ax.get_position()
ax.set_position([pos.x0 + (794 - p0[0]) / W, pos.y0 + ((H - 816) - p0[1]) / H, pos.width, pos.height])
fig.canvas.draw()

grid_c = (0.86, 0.86, 0.86)
for t in box_ticks:
    ax.plot([t, t], [-1, 1], [0, 0], color=grid_c, lw=0.5, zorder=1, clip_on=False)
    ax.plot([-1, 1], [t, t], [0, 0], color=grid_c, lw=0.5, zorder=1, clip_on=False)
    ax.plot([t, t], [1, 1], [0, 1], color=grid_c, lw=0.5, zorder=1, clip_on=False)
    ax.plot([1, 1], [t, t], [0, 1], color=grid_c, lw=0.5, zorder=1, clip_on=False)
for t in z_ticks:
    ax.plot([-1, 1, 1], [1, 1, -1], [t, t, t], color=grid_c, lw=0.5, zorder=1, clip_on=False)

ax.plot([-1, 1], [-1, -1], [0, 0], color=INK, lw=0.6, zorder=2, clip_on=False)
ax.plot([-1, -1], [-1, 1], [0, 0], color=INK, lw=0.6, zorder=2, clip_on=False)
ax.plot([-1, -1], [1, 1], [0, 1], color=INK, lw=0.6, zorder=2, clip_on=False)
for t in box_ticks:
    ax.plot([t, t], [-1, -1.05], [0, 0], color=INK, lw=0.6, zorder=2, clip_on=False)
    ax.plot([-1, -1.05], [t, t], [0, 0], color=INK, lw=0.6, zorder=2, clip_on=False)
for t in z_ticks:
    ax.plot([-1, -1], [1, 1.05], [t, t], color=INK, lw=0.6, zorder=2, clip_on=False)

# wire mesh on the sphere, cut up so the near half can go over the far dots
lats = np.radians(np.arange(3.6, 90.1, 3.6))
lons = np.radians(np.arange(0, 360, 7.2))
fine_lon = np.radians(np.arange(0, 360.1, 3.6))
fine_lat = np.radians(np.arange(3.6, 90.1, 1.8))
segs = []
for la in lats:
    pts = np.c_[np.cos(la) * np.cos(fine_lon), np.cos(la) * np.sin(fine_lon), np.full_like(fine_lon, np.sin(la))]
    segs.extend(np.stack([pts[:-1], pts[1:]], axis=1))
for lo in lons:
    pts = np.c_[np.cos(fine_lat) * np.cos(lo), np.cos(fine_lat) * np.sin(lo), np.sin(fine_lat)]
    segs.extend(np.stack([pts[:-1], pts[1:]], axis=1))
segs = np.array(segs)

view = np.array([np.cos(np.radians(ELEV)) * np.cos(np.radians(AZIM)),
                 np.cos(np.radians(ELEV)) * np.sin(np.radians(AZIM)),
                 np.sin(np.radians(ELEV))])
seg_front = segs.mean(axis=1) @ view > 0
dot_front = np.c_[s_x, s_y, s_z] @ view > 0

wire_c = (0.5, 0.5, 0.5)
ax.add_collection3d(Line3DCollection(segs[~seg_front], colors=[wire_c], linewidths=0.5, zorder=3, clip_on=False))
ax.scatter(s_x[~dot_front], s_y[~dot_front], s_z[~dot_front], c=u[~dot_front], cmap=jet64,
           vmin=CLIM_3D[0], vmax=CLIM_3D[1], s=DOT_S_3D, linewidths=0, depthshade=False, zorder=4, clip_on=False)
ax.add_collection3d(Line3DCollection(segs[seg_front], colors=[wire_c], linewidths=0.5, zorder=5, clip_on=False))
ax.scatter(s_x[dot_front], s_y[dot_front], s_z[dot_front], c=u[dot_front], cmap=jet64,
           vmin=CLIM_3D[0], vmax=CLIM_3D[1], s=DOT_S_3D, linewidths=0, depthshade=False, zorder=6, clip_on=False)
ax.set_xlim(-1, 1)
ax.set_ylim(-1, 1)
ax.set_zlim(0, 1)


def label_at(anchor, dx, dy, txt, **kw):
    fig.text((anchor[0] + dx) / W, (anchor[1] - dy) / H, txt, ha="center", va="center", **kw)


x_off = [(63, 46), (39, 43), (57, 44)]
y_off = [(-62, 45), (-41, 43), (-54, 43)]
for t, lab, xo, yo in zip(box_ticks, box_labels, x_off, y_off):
    label_at(to_px(t, -1, 0), xo[0], xo[1], lab, family=SANS, fontsize=TICK_FS, color=INK)
    label_at(to_px(-1, t, 0), yo[0], yo[1], lab, family=SANS, fontsize=TICK_FS, color=INK)
for t, lab in zip(z_ticks, z_labels):
    label_at(to_px(-1, 1, t), -58, -15, lab, family=SANS, fontsize=TICK_FS, color=INK)

fig.text(1106 / W, 1 - 1204 / H, "x", family=SERIF, fontsize=14, color=INK, ha="center", va="center")
fig.text(497 / W, 1 - 1207 / H, "y", family=SERIF, fontsize=14, color=INK, ha="center", va="center")
fig.text(33 / W, 1 - 649 / H, "z", family=SERIF, fontsize=14, color=INK, ha="center", va="center", rotation=90)
fig.text(795 / W, 1 - 37 / H, TITLE_A, family=SERIF, fontsize=TITLE_FS, color="black", ha="center", va="center")

# ---- panel b
ax2 = fig.add_axes(px_box(1827, 94, 2923, 1188))
ax2.scatter(az_x, az_y, c=u, cmap=jet64, vmin=CLIM[0], vmax=CLIM[1], s=DOT_S, linewidths=0, clip_on=False, zorder=3)
circle_t = np.radians(np.arange(0, 360.5, 0.5))
ax2.plot(R_MAX * np.cos(circle_t), R_MAX * np.sin(circle_t), color="black", lw=1.1, dashes=(4, 4.4), clip_on=False, zorder=4)
ax2.set_xlim(-R_MAX, R_MAX)
ax2.set_ylim(-R_MAX, R_MAX)
ax2.set_xticks(xy_ticks)
ax2.set_xticklabels(xy_labels, family=SANS, fontsize=TICK_FS, color=INK)
ax2.set_yticks(xy_ticks)
ax2.set_yticklabels(xy_labels, family=SANS, fontsize=TICK_FS, color=INK)
ax2.tick_params(axis="both", direction="in", length=4.3, width=0.6, color=INK)
ax2.tick_params(axis="x", pad=9)
ax2.tick_params(axis="y", pad=8.5)
for side in ("top", "right"):
    ax2.spines[side].set_visible(False)
for side in ("left", "bottom"):
    ax2.spines[side].set_linewidth(0.6)
    ax2.spines[side].set_color(INK)
fig.text(2376 / W, 1 - 1281 / H, "x", family=SERIF, fontsize=14, color=INK, ha="center", va="center")
fig.text(1709 / W, 1 - 638 / H, "y", family=SERIF, fontsize=14, color=INK, ha="center", va="center", rotation=90)
fig.text(2378 / W, 1 - 62 / H, TITLE_B, family=SERIF, fontsize=TITLE_FS, color="black", ha="center", va="center")

# ---- colourbar
cax = fig.add_axes(px_box(2956, 92, 3019, 1187))
cb = fig.colorbar(ScalarMappable(norm=Normalize(*CLIM), cmap=jet64), cax=cax)
cb.set_ticks(cbar_ticks)
cb.set_ticklabels(cbar_labels, family=SANS, fontsize=TICK_FS, color=INK)
cax.tick_params(direction="in", length=3.6, width=0.6, color=INK, pad=5.5)
cb.outline.set_linewidth(0.6)
cb.outline.set_edgecolor(INK)

fig.savefig("out.png", dpi=DPI)
